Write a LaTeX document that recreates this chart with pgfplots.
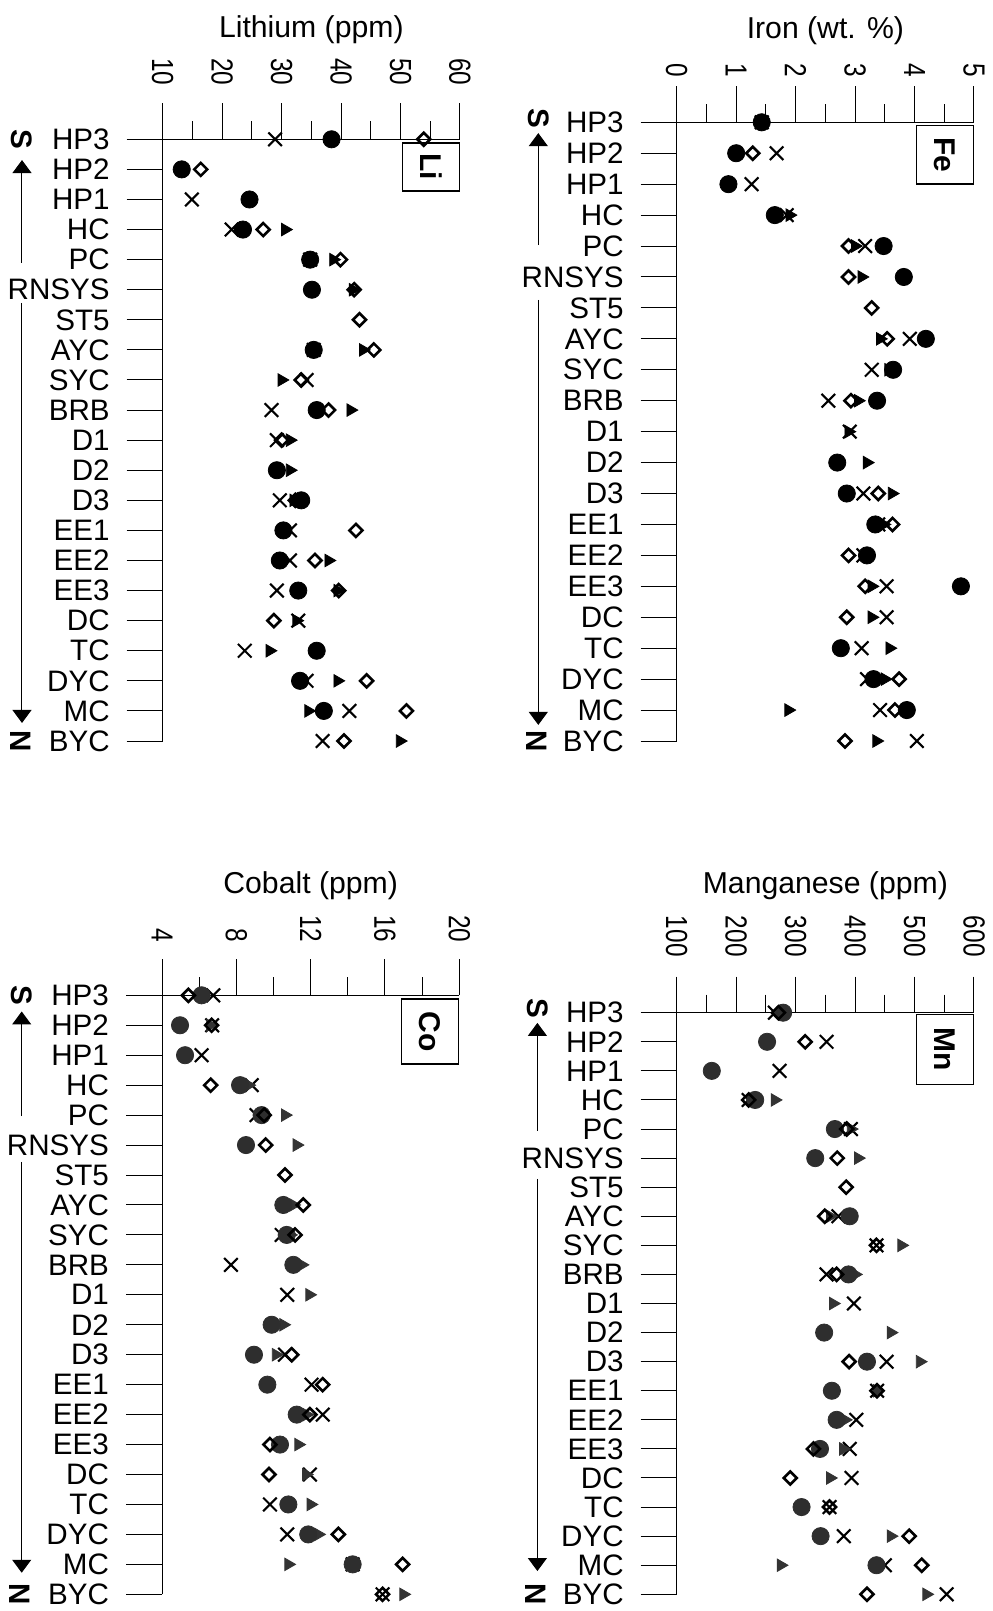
\documentclass[border=0pt]{standalone}
\usepackage{fontspec}
\setmainfont{Liberation Sans}
\usepackage{pgfplots}
\pgfplotsset{compat=1.18}
\usetikzlibrary{arrows.meta}

\newcommand\lab{\fontsize{14.8}{17}\selectfont}
\newcommand\ttl{\fontsize{15.1}{17}\selectfont}
\pgfplotsset{
  panel/.style={
    scale only axis, width=148.65pt,
    axis x line=top, axis y line=left,
    axis line style={-, line width=0.5pt, black},
    every tick/.style={line width=0.5pt, black},
    tick align=outside,
    major tick length=18pt, minor tick length=9pt,
    minor x tick num=1,
    ymin=-20, ymax=0,
    ytick={-20,-19,...,0},
    yticklabels={BYC,MC,DYC,TC,DC,EE3,EE2,EE1,D3,D2,D1,BRB,SYC,AYC,ST5,RNSYS,PC,HC,HP1,HP2,HP3},
    /pgf/number format/assume math mode=true,
    xticklabel={\scalebox{1}[1.25]{\pgfmathprintnumber{\tick}}},
    xticklabel style={rotate=-90, anchor=east, font=\fontsize{12.2}{14}\selectfont},
    yticklabel style={font=\lab, xshift=-5pt},
    clip=false,
    anchor=north west,
  },
  circ/.style={only marks, mark=*, mark size=4.3pt, mark options={fill=#1, draw=#1}},
  circ/.default=black,
  diam/.style={only marks, mark=square, mark size=2.3pt, mark options={rotate=45, draw=black, line width=1.3pt, fill=none}},
  crs/.style={only marks, mark=x, mark size=4.8pt, mark options={draw=black, line width=1.05pt}},
  tri/.style={only marks, mark=triangle*, mark size=3.6pt, mark options={rotate=-90, fill=#1, draw=#1}},
  tri/.default=black,
}
\tikzset{
  arr/.style={line width=0.5pt, -{Triangle[width=9.5pt,length=6.5pt]}},
  sn/.style={rotate=-90, font=\bfseries\lab},
  elbox/.style={draw, line width=0.6pt, rotate=-90, anchor=north west, font=\bfseries\fontsize{15}{18}\selectfont, minimum height=28.5pt, inner sep=0pt},
}

\begin{document}
\begin{tikzpicture}
\useasboundingbox (0,0) rectangle (496pt,-805.5pt);

% ---------------- Lithium ----------------
\begin{axis}[panel, at={(81.35pt,-69.65pt)}, height=300.85pt,
  xmin=10, xmax=60, xtick={10,20,...,60}, xticklabel shift=5.5pt]
\addplot[crs] coordinates {(28.9,0) (14.9,-2) (21.6,-3) (34.8,-4) (35.4,-7) (34.2,-8) (28.3,-9) (29.2,-10) (29.7,-12) (31.4,-13) (31.4,-14) (29.2,-15) (32.8,-16) (23.8,-17) (34.2,-18) (41.4,-19) (36.9,-20)};
\addplot[tri] coordinates {(30.6,-3) (38.7,-4) (42.0,-5) (43.7,-7) (30.0,-8) (41.6,-9) (31.4,-10) (31.4,-11) (32.0,-12) (37.9,-14) (39.4,-15) (32.5,-16) (28.0,-17) (39.4,-18) (34.5,-19) (49.9,-20)};
\addplot[circ] coordinates {(38.4,0) (13.2,-1) (24.6,-2) (23.5,-3) (34.8,-4) (35.1,-5) (35.4,-7) (35.9,-9) (29.2,-11) (33.3,-12) (30.3,-13) (29.7,-14) (32.8,-15) (35.9,-17) (33.1,-18) (37.1,-19)};
\addplot[diam] coordinates {(53.9,0) (16.4,-1) (26.9,-3) (39.9,-4) (42.2,-5) (43.1,-6) (45.5,-7) (33.3,-8) (37.9,-9) (30.0,-10) (32.3,-12) (42.5,-13) (35.6,-14) (39.6,-15) (28.7,-16) (44.3,-18) (51.0,-19) (40.5,-20)};
\node[anchor=base, font=\ttl] at ([yshift=51pt]rel axis cs:0.5,1) {Lithium (ppm)};
\node[elbox, minimum width=24pt] at ([yshift=-1.5pt]rel axis cs:1,1) {Li};
\draw[arr] ([xshift=-70.35pt]axis cs:10,-4.11) -- ([xshift=-70.35pt]axis cs:10,-0.69);
\draw[arr] ([xshift=-70.35pt]axis cs:10,-5.44) -- ([xshift=-70.35pt]axis cs:10,-19.4);
\node[sn] at ([xshift=-70.35pt]axis cs:10,0) {S};
\node[sn] at ([xshift=-71pt]axis cs:10,-20) {N};
\end{axis}

% ---------------- Iron ----------------
\begin{axis}[panel, at={(338.35pt,-61.15pt)}, height=309.35pt,
  xmin=0, xmax=5, xtick={0,1,...,5}, xticklabel shift=1pt]
\addplot[crs] coordinates {(1.43,0) (1.68,-1) (1.26,-2) (1.85,-3) (3.17,-4) (3.92,-7) (3.28,-8) (2.55,-9) (2.91,-10) (3.14,-12) (3.39,-13) (3.14,-14) (3.53,-15) (3.53,-16) (3.11,-17) (3.20,-18) (3.42,-19) (4.04,-20)};
\addplot[tri] coordinates {(1.45,0) (1.9,-3) (3.0,-4) (3.11,-5) (3.42,-7) (3.56,-8) (3.05,-9) (2.89,-10) (3.20,-11) (3.62,-12) (3.48,-13) (3.20,-14) (3.28,-15) (3.28,-16) (3.58,-17) (3.50,-18) (1.88,-19) (3.36,-20)};
\addplot[circ] coordinates {(1.43,0) (1.0,-1) (0.87,-2) (1.65,-3) (3.48,-4) (3.82,-5) (4.19,-7) (3.64,-8) (3.37,-9) (2.70,-11) (2.86,-12) (3.34,-13) (3.20,-14) (4.78,-15) (2.76,-17) (3.31,-18) (3.87,-19)};
\addplot[diam] coordinates {(1.43,0) (1.28,-1) (2.89,-4) (2.89,-5) (3.28,-6) (3.54,-7) (2.93,-9) (3.39,-12) (3.63,-13) (2.89,-14) (3.17,-15) (2.86,-16) (3.74,-18) (3.67,-19) (2.83,-20)};
\node[anchor=base, font=\ttl] at ([yshift=42pt]rel axis cs:0.5,1) {Iron (wt. \%)};
\node[elbox, minimum width=29pt] at ([yshift=-1.5pt]rel axis cs:1,1) {Fe};
\draw[arr] ([xshift=-69.2pt]axis cs:0,-3.97) -- ([xshift=-69.2pt]axis cs:0,-0.35);
\draw[arr] ([xshift=-69.2pt]axis cs:0,-5.74) -- ([xshift=-69.2pt]axis cs:0,-19.48);
\node[sn] at ([xshift=-69.2pt,yshift=2pt]axis cs:0,0) {S};
\node[sn] at ([xshift=-70pt]axis cs:0,-20) {N};
\end{axis}

% ---------------- Cobalt ----------------
\begin{axis}[panel, at={(81pt,-497.65pt)}, height=299.5pt,
  xmin=4, xmax=20, xtick={4,8,...,20}, xticklabel shift=5pt]
\addplot[crs] coordinates {(6.76,0) (6.7,-1) (6.13,-2) (8.83,-3) (9.09,-4) (10.44,-8) (7.71,-9) (10.74,-10) (10.62,-12) (12.05,-13) (12.65,-14) (11.96,-16) (9.81,-17) (10.74,-18) (14.26,-19) (15.87,-20)};
\addplot[tri=black!80] coordinates {(6.6,-1) (8.65,-3) (10.62,-4) (11.25,-5) (11.07,-7) (10.9,-8) (11.52,-9) (11.93,-10) (10.53,-11) (10.13,-12) (11.78,-14) (11.34,-15) (11.75,-16) (12.0,-17) (12.41,-18) (10.80,-19) (16.99,-20)};
\addplot[circ=black!82] coordinates {(6.13,0) (4.97,-1) (5.24,-2) (8.20,-3) (9.36,-4) (8.52,-5) (10.53,-7) (10.71,-8) (11.07,-9) (9.90,-11) (8.95,-12) (9.67,-13) (11.25,-14) (10.35,-15) (10.80,-17) (11.87,-18) (14.26,-19)};
\addplot[diam] coordinates {(5.42,0) (6.67,-1) (6.62,-3) (9.5,-4) (9.58,-5) (10.62,-6) (11.6,-7) (11.16,-8) (10.98,-12) (12.65,-13) (11.96,-14) (9.81,-15) (9.76,-16) (13.49,-18) (16.95,-19) (15.87,-20)};
\node[anchor=base, font=\ttl] at ([yshift=51pt]rel axis cs:0.5,1) {Cobalt (ppm)};
\node[elbox, minimum width=32.5pt] at ([yshift=-1.5pt]rel axis cs:1,1) {Co};
\draw[arr] ([xshift=-70.15pt]axis cs:4,-4.03) -- ([xshift=-70.15pt]axis cs:4,-0.54);
\draw[arr] ([xshift=-70.15pt]axis cs:4,-5.56) -- ([xshift=-70.15pt]axis cs:4,-19.28);
\node[sn] at ([xshift=-70.15pt]axis cs:4,0) {S};
\node[sn] at ([xshift=-71pt]axis cs:4,-20) {N};
\end{axis}

% ---------------- Manganese ----------------
\begin{axis}[panel, at={(338.35pt,-506.35pt)}, height=290.8pt,
  xmin=100, xmax=600, xtick={100,200,...,600}, xticklabel shift=6.5pt]
\addplot[crs] coordinates {(265,0) (352,-1) (273,-2) (221,-3) (393,-4) (372,-7) (436,-8) (352,-9) (398,-10) (453,-12) (437,-13) (402,-14) (391,-15) (394,-16) (357,-17) (381,-18) (450,-19) (554,-20)};
\addplot[tri=black!80] coordinates {(265,-3) (393,-4) (405,-5) (358,-7) (478,-8) (400,-9) (363,-10) (460,-11) (509,-12) (437,-13) (383,-14) (380,-15) (358,-16) (460,-18) (275,-19) (520,-20)};
\addplot[circ=black!82] coordinates {(279,0) (252,-1) (159,-2) (232,-3) (366,-4) (333,-5) (391,-7) (389,-9) (348,-11) (420,-12) (361,-13) (369,-14) (341,-15) (310,-17) (342,-18) (436,-19)};
\addplot[diam] coordinates {(271,0) (316,-1) (221,-3) (386,-4) (370,-5) (385,-6) (349,-7) (436,-8) (369,-9) (390,-12) (437,-13) (330,-15) (291,-16) (357,-17) (491,-18) (512,-19) (420,-20)};
\node[anchor=base, font=\ttl] at ([yshift=59.5pt]rel axis cs:0.5,1) {Manganese (ppm)};
\node[elbox, minimum width=35pt] at ([yshift=-0.5pt]rel axis cs:1,1) {Mn};
\draw[arr] ([xshift=-69.65pt]axis cs:100,-4.06) -- ([xshift=-69.65pt]axis cs:100,-0.35);
\draw[arr] ([xshift=-69.65pt]axis cs:100,-5.71) -- ([xshift=-69.65pt]axis cs:100,-19.2);
\node[sn] at ([xshift=-69.65pt,yshift=2pt]axis cs:100,0) {S};
\node[sn] at ([xshift=-70.5pt]axis cs:100,-20) {N};
\end{axis}
\end{tikzpicture}
\end{document}
